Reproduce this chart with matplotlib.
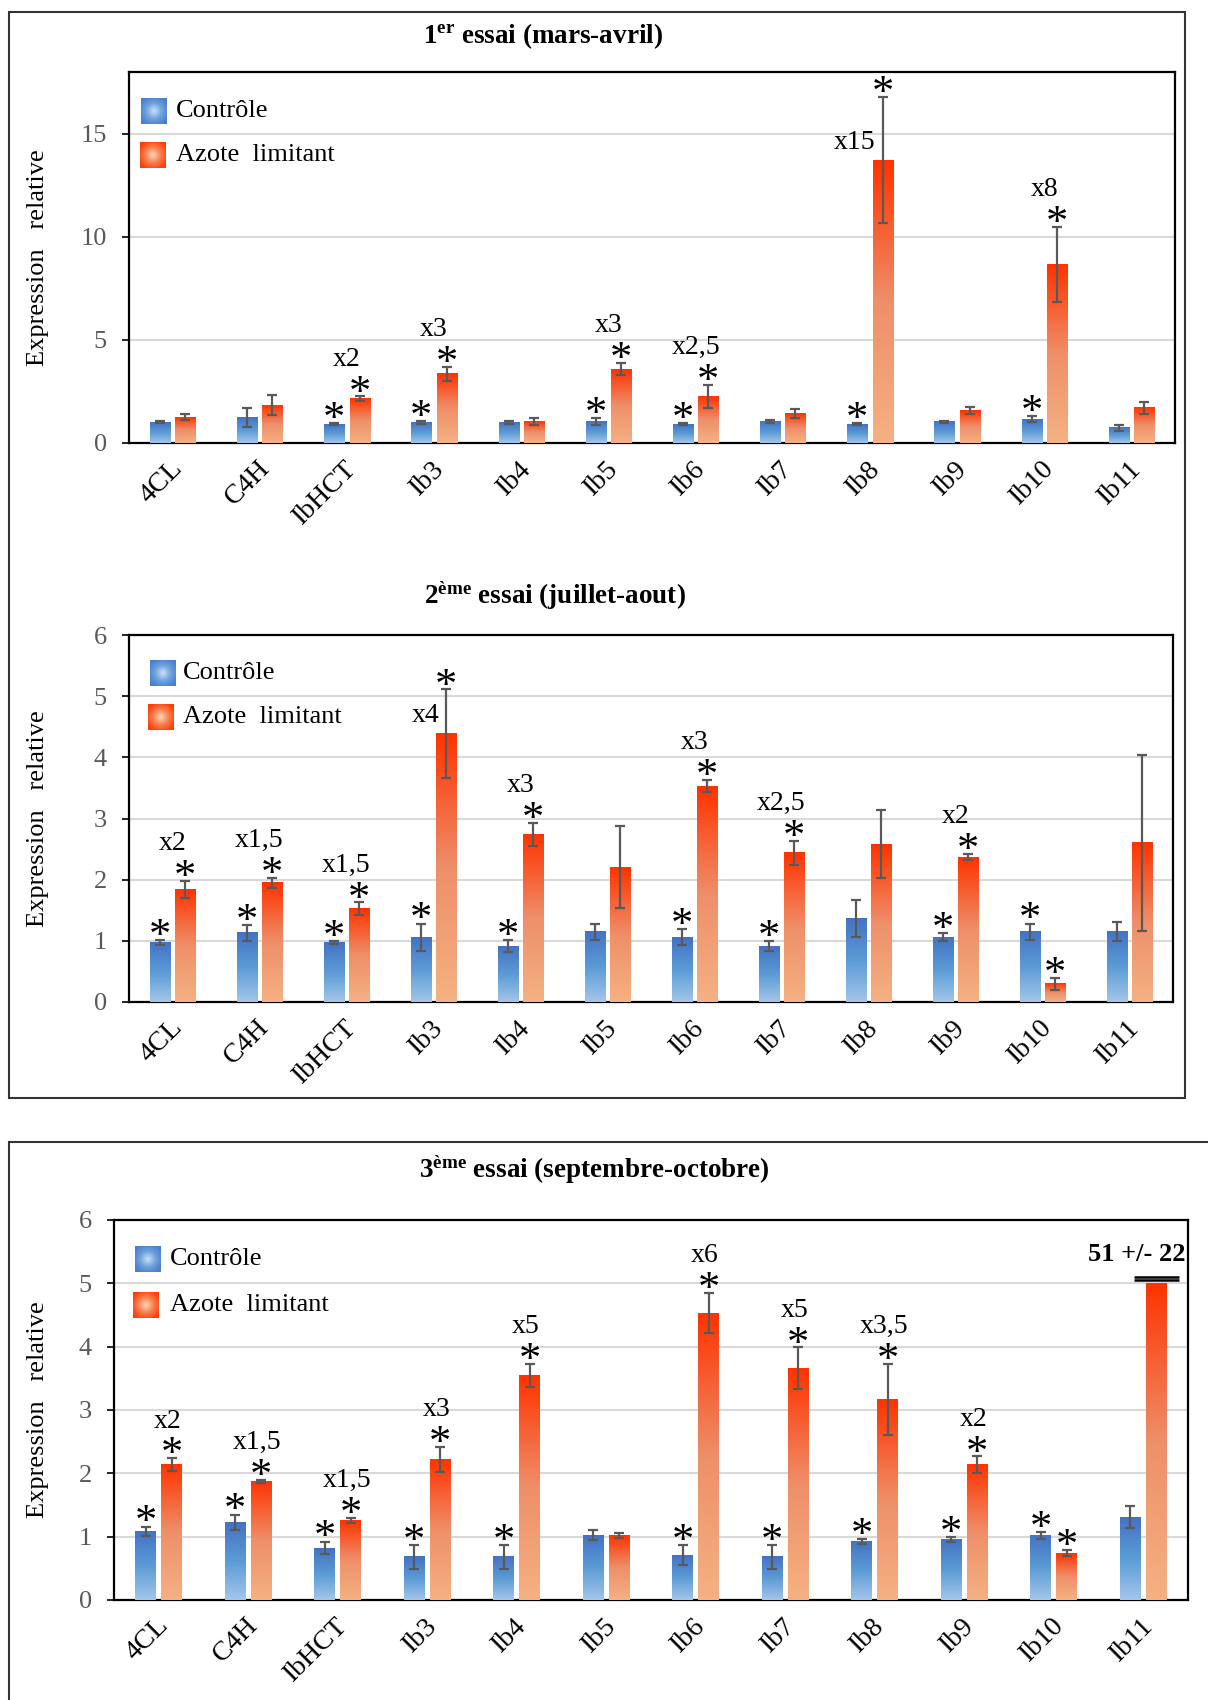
import numpy as np
import matplotlib.pyplot as plt
import matplotlib.transforms as mtransforms
from matplotlib.colors import LinearSegmentedColormap
from matplotlib.patches import Rectangle

plt.rcParams['font.family'] = 'Liberation Serif'
plt.rcParams['mathtext.fontset'] = 'custom'
plt.rcParams['mathtext.rm'] = 'Liberation Serif'
plt.rcParams['mathtext.it'] = 'Liberation Serif:italic'
plt.rcParams['mathtext.bf'] = 'Liberation Serif:bold'

genes = ['4CL', 'C4H', 'IbHCT', 'Ib3', 'Ib4', 'Ib5', 'Ib6', 'Ib7', 'Ib8', 'Ib9', 'Ib10', 'Ib11']

# 1er essai (mars-avril)
ctrl1 = [1.01, 1.25, 0.90, 0.99, 1.00, 1.04, 0.90, 1.04, 0.90, 1.04, 1.16, 0.73]
ctrl1_err = [0.05, 0.47, 0.05, 0.07, 0.08, 0.15, 0.05, 0.08, 0.05, 0.05, 0.14, 0.14]
azote1 = [1.25, 1.84, 2.14, 3.35, 1.04, 3.58, 2.26, 1.44, 13.73, 1.58, 8.68, 1.70]
azote1_err = [0.14, 0.50, 0.12, 0.35, 0.17, 0.30, 0.57, 0.21, 3.07, 0.16, 1.82, 0.30]
sig_ctrl1 = [0, 0, 1, 1, 0, 1, 1, 0, 1, 0, 1, 0]
sig_azote1 = [0, 0, 1, 1, 0, 1, 1, 0, 1, 0, 1, 0]
fold1 = ['', '', 'x2', 'x3', '', 'x3', 'x2,5', '', 'x15', '', 'x8', '']

# 2eme essai (juillet-aout)
ctrl2 = [0.975, 1.13, 0.975, 1.06, 0.91, 1.15, 1.06, 0.91, 1.36, 1.06, 1.15, 1.15]
ctrl2_err = [0.04, 0.13, 0.02, 0.22, 0.10, 0.13, 0.13, 0.08, 0.30, 0.07, 0.13, 0.16]
azote2 = [1.84, 1.95, 1.53, 4.39, 2.74, 2.20, 3.53, 2.44, 2.58, 2.37, 0.30, 2.60]
azote2_err = [0.14, 0.08, 0.10, 0.72, 0.19, 0.67, 0.10, 0.20, 0.56, 0.05, 0.10, 1.44]
sig_ctrl2 = [1, 1, 1, 1, 1, 0, 1, 1, 0, 1, 1, 0]
sig_azote2 = [1, 1, 1, 1, 1, 0, 1, 1, 0, 1, 1, 0]
fold2 = ['x2', 'x1,5', 'x1,5', 'x4', 'x3', '', 'x3', 'x2,5', '', 'x2', '', '']

# 3eme essai (septembre-octobre)
ctrl3 = [1.085, 1.23, 0.82, 0.68, 0.68, 1.02, 0.71, 0.68, 0.92, 0.95, 1.02, 1.31]
ctrl3_err = [0.07, 0.12, 0.10, 0.19, 0.19, 0.08, 0.16, 0.19, 0.04, 0.04, 0.05, 0.17]
azote3 = [2.14, 1.87, 1.26, 2.22, 3.55, 1.02, 4.53, 3.66, 3.17, 2.14, 0.74, 51]
azote3_err = [0.10, 0.03, 0.04, 0.20, 0.18, 0.04, 0.32, 0.33, 0.56, 0.13, 0.05, 22]
sig_ctrl3 = [1, 1, 1, 1, 1, 0, 1, 1, 1, 1, 1, 0]
sig_azote3 = [1, 1, 1, 1, 1, 0, 1, 1, 1, 1, 1, 0]
fold3 = ['x2', 'x1,5', 'x1,5', 'x3', 'x5', '', 'x6', 'x5', 'x3,5', 'x2', '', '']

cap3 = 5.0  # axis break for the off-scale bar

blue_cm = LinearSegmentedColormap.from_list('b', ['#a3c6ea', '#5b9bd5', '#4472c4'])
orange_cm = LinearSegmentedColormap.from_list('o', ['#f5b183', '#ee8f6a', '#ff3300'])
blue_leg = LinearSegmentedColormap.from_list('bl', ['#c6ddf4', '#6fa3dd', '#4a7fd0'])
orange_leg = LinearSegmentedColormap.from_list('ol', ['#fbd1b5', '#f7804d', '#ff3d0a'])

DPI = 100
fig = plt.figure(figsize=(12.08, 17.0), dpi=DPI)

# outer frames
fig.add_artist(Rectangle((9 / 1208, 1 - 1098 / 1700), 1176 / 1208, 1086 / 1700,
                         transform=fig.transFigure, fill=False, ec='#333333', lw=1.5))
fig.add_artist(Rectangle((9 / 1208, -0.01), 1.05, 1 - 1142 / 1700 + 0.01,
                         transform=fig.transFigure, fill=False, ec='#333333', lw=1.5))

grad = np.linspace(0, 1, 256).reshape(-1, 1)
yy, xx = np.mgrid[-1:1:40j, -1:1:40j]
radial = np.clip(np.hypot(xx, yy) / 1.2, 0, 1)


def grad_bars(ax, x, h, w, cmap):
    bars = ax.bar(x, h, w, color='none', edgecolor='none', zorder=3)
    for b in bars:
        x0 = b.get_x()
        ax.imshow(grad, extent=(x0, x0 + b.get_width(), 0, b.get_height()),
                  origin='lower', cmap=cmap, aspect='auto', zorder=3)
    return bars


def legend(ax, x_sq, y_sq, x_txt):
    bb = ax.get_position()
    W, H = bb.width * 1208, bb.height * 1700
    s = 26
    for (xs, ys), cm, lab in zip(zip(x_sq, y_sq), [blue_leg, orange_leg],
                                 ['Contrôle', 'Azote  limitant']):
        ax.imshow(radial, extent=(xs / W, (xs + s) / W, 1 - (ys + s) / H, 1 - ys / H),
                  transform=ax.transAxes, cmap=cm, aspect='auto', zorder=6)
        ax.text(x_txt / W, 1 - (ys + s / 2) / H, lab, transform=ax.transAxes,
                fontsize=19, va='center', ha='left', zorder=6)


def panel(rect, ctrl, ctrl_err, az, az_err, sig_c, sig_a, fold, ymax, yticks,
          lab_dx, side, leg, ylab_x, cap=None):
    ax = fig.add_axes(rect)
    n = len(genes)
    xc = np.arange(n) + 0.5
    w = 0.23
    off = 0.145
    ctrl = np.array(ctrl, float)
    az = np.array(az, float)
    ctrl_err = np.array(ctrl_err, float)
    az_err = np.array(az_err, float)
    az_show = az.copy()
    az_err_show = az_err.copy()
    if cap is not None:
        over = az > cap
        az_show[over] = cap
        az_err_show[over] = np.nan

    grad_bars(ax, xc - off, ctrl, w, blue_cm)
    grad_bars(ax, xc + off, az_show, w, orange_cm)
    ekw = dict(fmt='none', ecolor='#595959', elinewidth=1.6, capsize=3.5, capthick=1.6, zorder=4)
    ax.errorbar(xc - off, ctrl, yerr=ctrl_err, **ekw)
    ax.errorbar(xc + off, az_show, yerr=az_err_show, **ekw)

    star_kw = dict(textcoords='offset points', ha='center', va='baseline', fontsize=32, zorder=5)
    for i in range(n):
        if sig_c[i]:
            ax.annotate('*', (xc[i] - off, ctrl[i] + ctrl_err[i]), xytext=(0, -5.5), **star_kw)
        if sig_a[i]:
            ax.annotate('*', (xc[i] + off, az[i] + az_err[i]), xytext=(0, -6), **star_kw)
        if fold[i]:
            if genes[i] in side:
                ax.annotate(fold[i], (xc[i] + off, az[i]), xytext=(-5, 8),
                            textcoords='offset points', ha='right', va='baseline', fontsize=20)
            else:
                ax.annotate(fold[i], (xc[i] + lab_dx, az[i] + az_err[i]), xytext=(0, 22),
                            textcoords='offset points', ha='center', va='baseline', fontsize=20)

    if cap is not None:
        for i in np.where(az > cap)[0]:
            ax.hlines([cap + 0.045, cap + 0.105], xc[i] + off - 0.25, xc[i] + off + 0.25,
                      color='black', lw=1.8, zorder=5, clip_on=False)
            ax.annotate(f'{az[i]:.0f} +/- {az_err[i]:.0f}', (xc[i] - 0.07, cap + 0.45),
                        ha='center', va='center', fontsize=19, fontweight='bold',
                        annotation_clip=False, zorder=6)

    legend(ax, *leg)

    ax.set_xlim(0, n)
    ax.set_ylim(0, ymax)
    ax.set_yticks(yticks)
    ax.set_xticks(xc)
    ax.set_xticklabels([])
    lab_tr = ax.get_xaxis_transform() + mtransforms.ScaledTranslation(
        15 / DPI, -13 / DPI, fig.dpi_scale_trans)
    for x, g in zip(xc, genes):
        ax.text(x, 0, g, transform=lab_tr, rotation=45, ha='right', va='top', fontsize=20)
    ax.tick_params(axis='x', length=0)
    ax.tick_params(axis='y', length=5, width=1.2, direction='out', pad=11,
                   labelsize=19, labelcolor='#595959')
    ax.grid(axis='y', color='#d9d9d9', lw=1.5, zorder=0)
    ax.set_axisbelow(True)
    for sp in ax.spines.values():
        sp.set_linewidth(1.6)
        sp.set_color('black')
    ax.set_ylabel('Expression   relative', fontsize=19)
    ax.yaxis.set_label_coords(ylab_x, 0.5)
    return ax


panel([129 / 1208, 1 - 443 / 1700, 1046 / 1208, 371 / 1700],
      ctrl1, ctrl1_err, azote1, azote1_err, sig_ctrl1, sig_azote1, fold1,
      18, [0, 5, 10, 15], 0.0, ['Ib8'], ([12, 11], [26, 70], 47), -0.0765)
panel([129 / 1208, 1 - 1002 / 1700, 1044 / 1208, 367 / 1700],
      ctrl2, ctrl2_err, azote2, azote2_err, sig_ctrl2, sig_azote2, fold2,
      6, range(7), 0.0, ['Ib3'], ([21, 19], [25, 69], 54), -0.0765)
panel([114 / 1208, 1 - 1600 / 1700, 1074 / 1208, 380 / 1700],
      ctrl3, ctrl3_err, azote3, azote3_err, sig_ctrl3, sig_azote3, fold3,
      6, range(7), 0.1, [], ([21, 19], [26, 72], 56), -0.0605, cap=cap3)

fig.text(543 / 1208, 1 - 36 / 1700, r'1$^{\mathbf{er}}$ essai (mars-avril)',
         ha='center', va='center', fontsize=19.5, fontweight='bold')
fig.text(555 / 1208, 1 - 596 / 1700, r'2$^{\mathbf{ème}}$ essai (juillet-aout)',
         ha='center', va='center', fontsize=19.5, fontweight='bold')
fig.text(594 / 1208, 1 - 1170 / 1700, r'3$^{\mathbf{ème}}$ essai (septembre-octobre)',
         ha='center', va='center', fontsize=19.5, fontweight='bold')

fig.savefig('out.png', dpi=DPI)
